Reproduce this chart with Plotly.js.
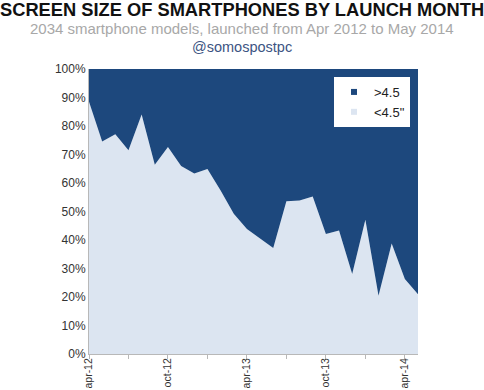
<!DOCTYPE html>
<html>
<head>
<meta charset="utf-8">
<script src="https://cdn.plot.ly/plotly-3.0.1.min.js"></script>
<style>html,body{margin:0;padding:0;background:#fff;}#chart{width:484px;height:390px;}</style>
</head>
<body>
<div id="chart"></div>
<script>
var months = ['2012-04','2012-05','2012-06','2012-07','2012-08','2012-09','2012-10','2012-11','2012-12',
  '2013-01','2013-02','2013-03','2013-04','2013-05','2013-06','2013-07','2013-08','2013-09','2013-10',
  '2013-11','2013-12','2014-01','2014-02','2014-03','2014-04','2014-05'];
var under45 = [88.5,74.6,77.1,71.5,84.0,66.4,72.6,66.0,63.3,64.9,57.4,49.2,43.9,40.5,37.2,53.6,53.9,55.3,42.1,43.3,28.1,47.1,20.4,38.8,26.3,21.0];
var over45 = [11.5,25.4,22.9,28.5,16.0,33.6,27.4,34.0,36.7,35.1,42.6,50.8,56.1,59.5,62.8,46.4,46.1,44.7,57.9,56.7,71.9,52.9,79.6,61.2,73.7,79.0];
var tickMonths = ['2012-04','2012-07','2012-10','2013-01','2013-04','2013-07','2013-10','2014-01','2014-04'];
var tickLabels = ['apr-12','','oct-12','','apr-13','','oct-13','','apr-14'];
var seriesNames = ['>4.5', '<4.5"'];

var darkBlue = '#1d487d';
var lightBlue = '#dce5f1';

var traces = [
  {x: months, y: under45, type: 'scatter', mode: 'lines', stackgroup: 'one',
   line: {width: 0, color: lightBlue}, fillcolor: lightBlue, showlegend: false, name: seriesNames[1]},
  {x: months, y: over45, type: 'scatter', mode: 'lines', stackgroup: 'one',
   line: {width: 0, color: darkBlue}, fillcolor: darkBlue, showlegend: false, name: seriesNames[0]},
  {x: [null], y: [null], type: 'scatter', mode: 'markers', name: seriesNames[0],
   marker: {symbol: 'square', size: 6, color: darkBlue}},
  {x: [null], y: [null], type: 'scatter', mode: 'markers', name: seriesNames[1],
   marker: {symbol: 'square', size: 6, color: lightBlue}}
];

var ph = 285;
var layout = {
  width: 484, height: 390,
  margin: {l: 89, r: 66, t: 69, b: 36},
  paper_bgcolor: '#ffffff', plot_bgcolor: '#ffffff',
  font: {family: 'Liberation Sans, Arial, sans-serif', color: '#333', size: 12},
  showlegend: true,
  legend: {x: 0.9757, xanchor: 'right', y: 0.972, yanchor: 'top', bgcolor: '#ffffff',
           font: {size: 13, color: '#222'}, traceorder: 'normal', itemwidth: 30},
  xaxis: {type: 'category', range: [0, months.length - 1], tickvals: tickMonths, ticktext: tickLabels,
          tickangle: -90, showline: true, linecolor: '#b8b8b8', ticks: 'outside', ticklen: 4,
          ticklabelstandoff: -5,
          tickcolor: '#b8b8b8', showgrid: false, zeroline: false, tickfont: {size: 10.5, color: '#333'}},
  yaxis: {range: [0, 100], dtick: 10, ticksuffix: '%', showline: true, linecolor: '#b8b8b8',
          ticks: '', showgrid: false, zeroline: false, tickfont: {size: 12, color: '#333'}},
  annotations: [
    {text: '<b>SCREEN SIZE OF SMARTPHONES BY LAUNCH MONTH</b>', xref: 'paper', yref: 'paper',
     x: (242 - 89) / 329, y: 1 + 60 / ph, xanchor: 'center', yanchor: 'middle', showarrow: false,
     font: {size: 18.3, color: '#111'}},
    {text: '2034 smartphone models, launched from Apr 2012 to May 2014', xref: 'paper', yref: 'paper',
     x: (242 - 89) / 329, y: 1 + 41 / ph, xanchor: 'center', yanchor: 'middle', showarrow: false,
     font: {size: 15, color: '#a8a8a8'}},
    {text: '@somospostpc', xref: 'paper', yref: 'paper',
     x: (242 - 89) / 329, y: 1 + 22 / ph, xanchor: 'center', yanchor: 'middle', showarrow: false,
     font: {size: 14.5, color: '#3c5482'}}
  ]
};

Plotly.newPlot('chart', traces, layout, {staticPlot: true, displayModeBar: false});
</script>
</body>
</html>
